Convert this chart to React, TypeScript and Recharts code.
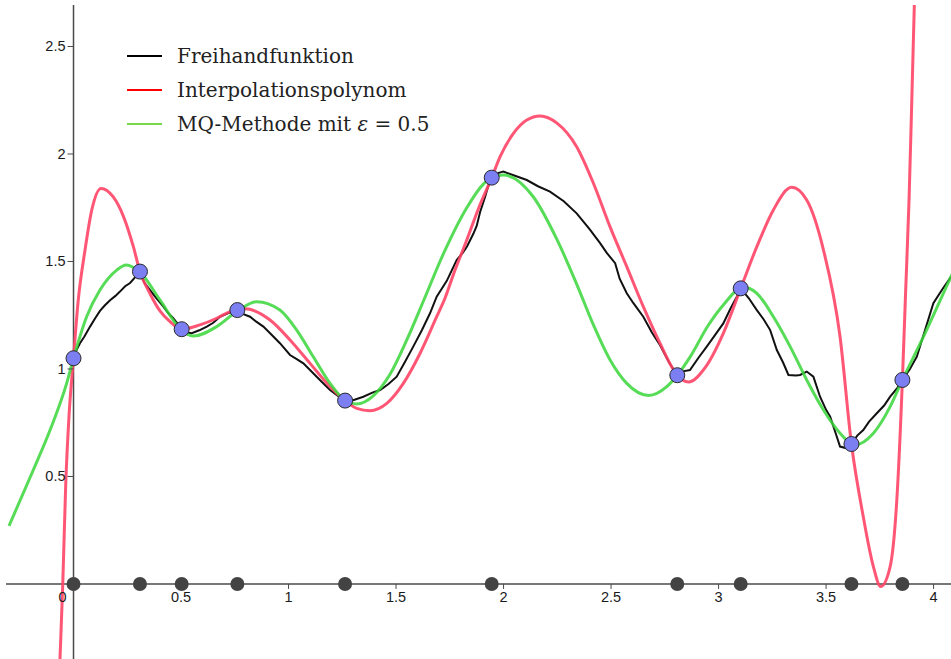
import React from "react";
import {
  ComposedChart,
  Line,
  Scatter,
  XAxis,
  YAxis,
  ReferenceLine,
  ReferenceDot,
  Legend,
} from "recharts";

// visible window of the GeoGebra view
const xDomain = [-0.314, 4.081];
const yDomain = [-0.349, 2.693];

const xTicks = [0, 0.5, 1, 1.5, 2, 2.5, 3, 3.5, 4];
const xTickLabels = ["0", "0.5", "1", "1.5", "2", "2.5", "3", "3.5", "4"];
const yTicks = [0.5, 1, 1.5, 2, 2.5];
const yTickLabels = ["0.5", "1", "1.5", "2", "2.5"];

// interpolation nodes
const nodeX = [0, 0.309, 0.503, 0.762, 1.263, 1.945, 2.808, 3.103, 3.618, 3.855];
const nodeY = [1.05, 1.453, 1.185, 1.274, 0.853, 1.89, 0.971, 1.375, 0.651, 0.949];

const legendLabels = ["Freihandfunktion", "Interpolationspolynom", "MQ-Methode mit ε = 0.5"];
const legendColors = ["#000000", "#ff0000", "#77d94a"];

const freehand = [
  [0.0, 1.05], [0.015, 1.09], [0.03, 1.12], [0.05, 1.15], [0.077, 1.197], [0.1, 1.235],
  [0.123, 1.27], [0.145, 1.295], [0.17, 1.32], [0.195, 1.34], [0.216, 1.36], [0.24, 1.385],
  [0.263, 1.4], [0.285, 1.425], [0.309, 1.45], [0.33, 1.4], [0.356, 1.367], [0.385, 1.33],
  [0.418, 1.29], [0.44, 1.26], [0.464, 1.236], [0.503, 1.185], [0.525, 1.17], [0.55, 1.166],
  [0.585, 1.18], [0.62, 1.197], [0.65, 1.215], [0.681, 1.243], [0.72, 1.26], [0.762, 1.274],
  [0.79, 1.255], [0.821, 1.243], [0.85, 1.22], [0.883, 1.197], [0.92, 1.16], [0.96, 1.12],
  [1.007, 1.065], [1.04, 1.045], [1.069, 1.026], [1.1, 0.995], [1.131, 0.964], [1.16, 0.935],
  [1.193, 0.902], [1.23, 0.875], [1.263, 0.853], [1.3, 0.855], [1.348, 0.871], [1.39, 0.89],
  [1.426, 0.902], [1.465, 0.93], [1.503, 0.964], [1.54, 1.03], [1.58, 1.104], [1.62, 1.18],
  [1.658, 1.259], [1.689, 1.336], [1.736, 1.41], [1.782, 1.507], [1.81, 1.54], [1.83, 1.57],
  [1.86, 1.63], [1.875, 1.665], [1.891, 1.73], [1.914, 1.8], [1.93, 1.855], [1.945, 1.89],
  [1.97, 1.91], [1.999, 1.918], [2.05, 1.9], [2.108, 1.879], [2.16, 1.85], [2.216, 1.825],
  [2.28, 1.78], [2.34, 1.724], [2.4, 1.65], [2.449, 1.585], [2.48, 1.54], [2.519, 1.492],
  [2.54, 1.42], [2.573, 1.352], [2.604, 1.306], [2.65, 1.243], [2.69, 1.17], [2.728, 1.11],
  [2.77, 1.03], [2.808, 0.971], [2.84, 0.99], [2.867, 0.995], [2.905, 1.05], [2.945, 1.104],
  [2.985, 1.16], [3.022, 1.212], [3.055, 1.28], [3.085, 1.336], [3.103, 1.375], [3.14, 1.33],
  [3.178, 1.274], [3.21, 1.23], [3.24, 1.181], [3.271, 1.088], [3.3, 1.03], [3.325, 0.972],
  [3.36, 0.97], [3.379, 0.972], [3.41, 0.988], [3.441, 0.964], [3.472, 0.871], [3.5, 0.81],
  [3.519, 0.778], [3.545, 0.7], [3.565, 0.639], [3.596, 0.631], [3.618, 0.651], [3.645, 0.69],
  [3.673, 0.716], [3.7, 0.755], [3.736, 0.794], [3.77, 0.83], [3.798, 0.871], [3.83, 0.91],
  [3.855, 0.949], [3.89, 1.0], [3.922, 1.057], [3.96, 1.18], [3.999, 1.306], [4.04, 1.37],
  [4.081, 1.429],
];

const polynom = [
  [-0.078, -0.75], [-0.063, -0.35], [-0.05, 0.0], [-0.036, 0.47], [-0.021, 0.78], [0.0, 1.05],
  [0.022, 1.32], [0.053, 1.55], [0.085, 1.74], [0.128, 1.84], [0.185, 1.8], [0.232, 1.71],
  [0.278, 1.57], [0.309, 1.453], [0.356, 1.35], [0.402, 1.27], [0.449, 1.22], [0.503, 1.185],
  [0.588, 1.205], [0.666, 1.236], [0.728, 1.267], [0.8, 1.28], [0.914, 1.228], [1.007, 1.135],
  [1.1, 1.026], [1.193, 0.918], [1.263, 0.853], [1.317, 0.817], [1.379, 0.806], [1.457, 0.84],
  [1.534, 0.933], [1.612, 1.073], [1.689, 1.243], [1.728, 1.33], [1.767, 1.44], [1.829, 1.6],
  [1.885, 1.75], [1.945, 1.89], [1.984, 1.988], [2.046, 2.096], [2.108, 2.158], [2.17, 2.177],
  [2.247, 2.145], [2.34, 2.034], [2.418, 1.864], [2.495, 1.662], [2.573, 1.476], [2.65, 1.29],
  [2.728, 1.119], [2.808, 0.971], [2.86, 0.94], [2.94, 1.01], [3.022, 1.166], [3.103, 1.375],
  [3.178, 1.569], [3.255, 1.74], [3.34, 1.845], [3.41, 1.786], [3.488, 1.553], [3.565, 1.15],
  [3.618, 0.651], [3.673, 0.313], [3.72, 0.081], [3.754, -0.012], [3.798, 0.081], [3.829, 0.391],
  [3.855, 0.949], [3.87, 1.36], [3.886, 1.79], [3.9, 2.3], [3.912, 2.75], [3.925, 3.2],
];

const mq = [
  [-0.3, 0.27], [-0.187, 0.53], [-0.109, 0.716], [-0.032, 0.933], [0.0, 1.05], [0.061, 1.243],
  [0.123, 1.367], [0.201, 1.46], [0.245, 1.484], [0.309, 1.45], [0.402, 1.321], [0.495, 1.189],
  [0.557, 1.153], [0.666, 1.197], [0.762, 1.27], [0.852, 1.313], [0.96, 1.274], [1.038, 1.181],
  [1.115, 1.057], [1.193, 0.933], [1.263, 0.853], [1.317, 0.837], [1.394, 0.875], [1.472, 0.975],
  [1.55, 1.135], [1.627, 1.315], [1.72, 1.535], [1.829, 1.75], [1.906, 1.86], [1.945, 1.89],
  [1.999, 1.902], [2.139, 1.8], [2.247, 1.605], [2.34, 1.395], [2.418, 1.205], [2.495, 1.043],
  [2.573, 0.933], [2.674, 0.877], [2.759, 0.918], [2.808, 0.971], [2.87, 1.06], [2.95, 1.2],
  [3.022, 1.298], [3.115, 1.38], [3.178, 1.352], [3.255, 1.243], [3.333, 1.104], [3.41, 0.949],
  [3.488, 0.809], [3.565, 0.701], [3.635, 0.647], [3.72, 0.701], [3.798, 0.825], [3.855, 0.949],
  [3.953, 1.15], [4.081, 1.429], [4.1, 1.47],
];

const toRows = (pts: number[][]) => pts.map(([x, y]) => ({ x, y }));
const nodes = nodeX.map((x, i) => ({ x, y: nodeY[i] }));
const axisNodes = nodeX.map((x) => ({ x, y: 0 }));

const axisColor = "#4a4a4a";
const tickFont = { fontFamily: "Liberation Sans, Arial, sans-serif", fontSize: 14.5, fill: "#1a1a1a" };

const renderLegend = () => (
  <div style={{ fontFamily: "DejaVu Serif, serif", fontSize: 20, color: "#222" }}>
    {legendLabels.map((label, i) => {
      const parts = label.split("ε");
      return (
        <div key={label} style={{ display: "flex", alignItems: "center", height: 34 }}>
          <div style={{ width: 35, height: 2.5, background: legendColors[i], marginRight: 15 }} />
          <span style={{ whiteSpace: "nowrap" }}>
            {parts[0]}
            {parts.length > 1 && <i>ε</i>}
            {parts[1]}
          </span>
        </div>
      );
    })}
  </div>
);

const App: React.FC = () => {
  return (
    <div style={{ position: "relative", width: 951, height: 659 }}>
      <style>{"body{margin:0}"}</style>
      <ComposedChart width={951} height={659} margin={{ top: 5, right: 0, bottom: 0, left: 6 }}>
        <XAxis type="number" dataKey="x" domain={xDomain} allowDataOverflow hide />
        <YAxis type="number" dataKey="y" domain={yDomain} allowDataOverflow hide />
        <ReferenceLine x={0} stroke={axisColor} strokeWidth={1.5} />
        <ReferenceLine y={0} stroke={axisColor} strokeWidth={1.5} />
        {xTicks.map((t, i) => (
          <ReferenceDot
            key={"xt" + t}
            x={t}
            y={0}
            r={0}
            shape={(p: any) => (
              <g>
                <line x1={p.cx} y1={p.cy} x2={p.cx} y2={p.cy + 5} stroke={axisColor} strokeWidth={1} />
                <text x={t === 0 ? p.cx - 11 : p.cx} y={p.cy + 18} textAnchor="middle" {...tickFont}>
                  {xTickLabels[i]}
                </text>
              </g>
            )}
          />
        ))}
        {yTicks.map((t, i) => (
          <ReferenceDot
            key={"yt" + t}
            x={0}
            y={t}
            r={0}
            shape={(p: any) => (
              <g>
                <line x1={p.cx - 6} y1={p.cy} x2={p.cx} y2={p.cy} stroke={axisColor} strokeWidth={1} />
                <text x={p.cx - 8} y={p.cy + 5} textAnchor="end" {...tickFont}>
                  {yTickLabels[i]}
                </text>
              </g>
            )}
          />
        ))}
        <Scatter
          data={axisNodes}
          dataKey="y"
          isAnimationActive={false}
          shape={(p: any) => <circle cx={p.cx} cy={p.cy} r={7} fill="#434343" />}
        />
        <Line
          data={toRows(freehand)}
          dataKey="y"
          type="linear"
          stroke="#111111"
          strokeWidth={2}
          dot={false}
          isAnimationActive={false}
        />
        <Line
          data={toRows(polynom)}
          dataKey="y"
          type="monotone"
          stroke="#ff4466"
          strokeOpacity={0.9}
          strokeWidth={3}
          dot={false}
          isAnimationActive={false}
        />
        <Line
          data={toRows(mq)}
          dataKey="y"
          type="monotone"
          stroke="#3ad63a"
          strokeOpacity={0.85}
          strokeWidth={3}
          dot={false}
          isAnimationActive={false}
        />
        <Scatter
          data={nodes}
          dataKey="y"
          isAnimationActive={false}
          shape={(p: any) => (
            <circle cx={p.cx} cy={p.cy} r={7.5} fill="#7b7ff2" stroke="#2a2a2a" strokeWidth={1} />
          )}
        />
        <Legend
          layout="vertical"
          align="center"
          verticalAlign="middle"
          content={renderLegend}
          wrapperStyle={{ position: "absolute", left: 127, top: 39, width: "auto" }}
        />
      </ComposedChart>
    </div>
  );
};

export default App;
